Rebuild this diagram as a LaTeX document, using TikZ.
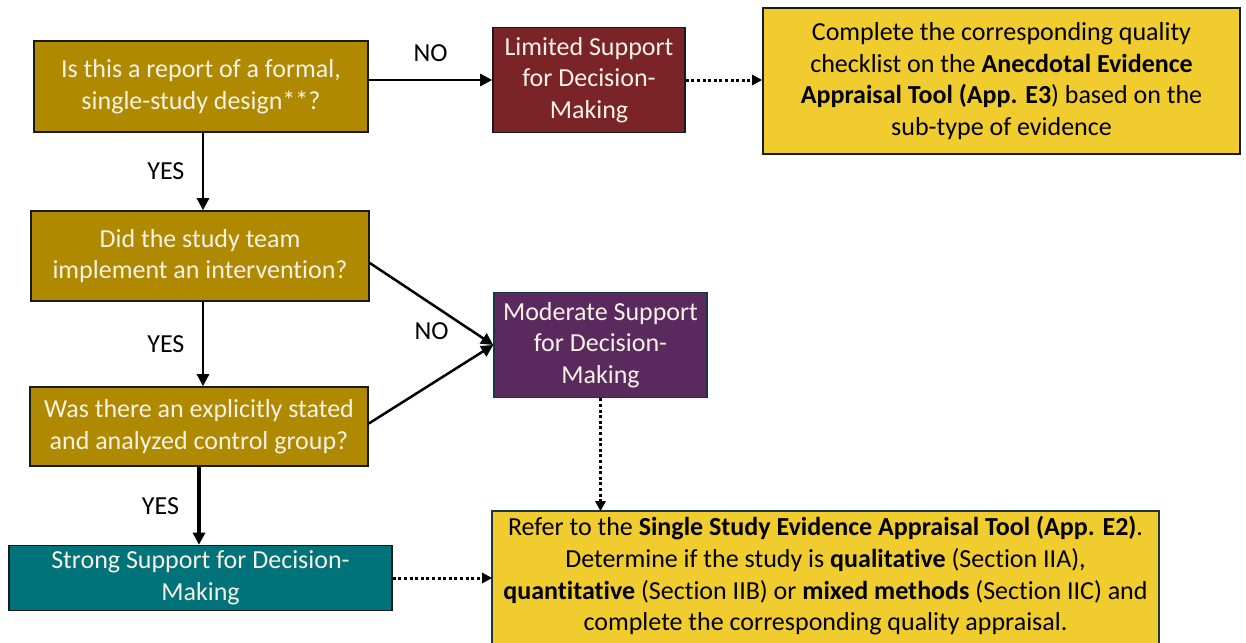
\documentclass[tikz,border=0pt]{standalone}
\usepackage{fontspec}
\setmainfont{Carlito}[Ligatures=NoCommon]
\usetikzlibrary{arrows.meta,backgrounds}

\definecolor{qgold}{HTML}{AF8900}
\definecolor{limred}{HTML}{7B2428}
\definecolor{modpurple}{HTML}{5A2A5E}
\definecolor{strteal}{HTML}{00737A}
\definecolor{noteyellow}{HTML}{F0CC2E}
\definecolor{edgedark}{HTML}{1A1A1A}
\definecolor{edgeblue}{HTML}{1C3448}
\definecolor{lighttext}{HTML}{F7F2E6}

\tikzset{
  basebox/.style={line width=1.6pt, align=center, inner sep=0pt,
    font=\fontsize{26}{31.7}\selectfont},
  question/.style={basebox, draw=edgedark, fill=qgold, text=lighttext},
  outcome/.style={basebox, text=lighttext},
  notebox/.style={basebox, draw=edgedark, fill=noteyellow, text=black},
  flow/.style={line width=2.5pt, -{Triangle[length=12pt,width=12pt]}},
  hint/.style={line width=3pt, dash pattern=on 3pt off 2.6pt,
    -{Triangle[length=10pt,width=10pt]}},
  tag/.style={font=\fontsize{26}{31.7}\selectfont, text=black}
}

\begin{document}
\begin{tikzpicture}[x=1pt,y=-1pt]
\useasboundingbox (0,0) rectangle (1246,642);

% decision questions
\node[question, minimum width=334pt, minimum height=91pt] (A) at (201,86.5)
  {Is this a report of a formal,\\single-study design**?};
\node[question, minimum width=338pt, minimum height=90pt] (D) at (200,256)
  {Did the study team\\implement an intervention?};
\node[question, minimum width=338pt, minimum height=79pt] (F) at (199,426.5)
  {Was there an explicitly stated\\and analyzed control group?};

% levels of support
\node[outcome, draw=edgedark, fill=limred, minimum width=192pt, minimum height=105pt] (B) at (589,80)
  {Limited Support\\for Decision-\\Making};
\node[outcome, draw=edgeblue, fill=modpurple, minimum width=213pt, minimum height=105pt] (E) at (600.5,345)
  {Moderate Support\\for Decision-\\Making};
\node[outcome, draw=edgedark, fill=strteal, minimum width=383pt, minimum height=65pt] (G) at (200.5,578)
  {Strong Support for Decision-\\Making};

% appraisal instructions
\node[notebox, minimum width=477pt, minimum height=146pt] (C) at (1001.5,81)
  {Complete the corresponding quality\\checklist on the \textbf{Anecdotal Evidence}\\
   \textbf{Appraisal Tool (App. E3}) based on the\\sub-type of evidence};
\node[basebox, text=black, minimum width=665pt, minimum height=128pt] (H) at (825.5,576)
  {Refer to the \textbf{Single Study Evidence Appraisal Tool (App. E2)}.\\
   Determine if the study is \textbf{qualitative} (Section IIA),\\
   \textbf{quantitative} (Section IIB) or \textbf{mixed methods} (Section IIC) and\\
   complete the corresponding quality appraisal.};
\begin{scope}[on background layer]
  \draw[line width=1.6pt, draw=edgeblue, fill=noteyellow]
    (H.north west) rectangle ([yshift=-20pt]H.south east);
\end{scope}

% decision flow
\draw[flow] (A.east |- B.west) -- node[tag, above=14pt] {NO} (B.west);
\draw[flow] ([xshift=2pt]A.south) -- node[tag, left=14pt] {YES} ([xshift=2pt]A.south |- D.north);
\draw[flow] ([xshift=3pt]D.south) -- node[tag, left=14pt] {YES} ([xshift=3pt]D.south |- F.north);
\draw[flow] ([yshift=-7pt]D.east) -- node[tag, below=14pt] {NO} (E.west);
\draw[flow] ([yshift=3pt]F.east) -- (E.west);
\draw[flow, line width=3.4pt] (F.south) -- node[tag, left=15pt] {YES} (F.south |- G.north);

% pointers to appraisal tools
\draw[hint] (B.east) -- (B.east -| C.west);
\draw[hint] (E.south) -- (E.south |- H.north);
\draw[hint] (G.east) -- (G.east -| H.west);
\end{tikzpicture}
\end{document}
